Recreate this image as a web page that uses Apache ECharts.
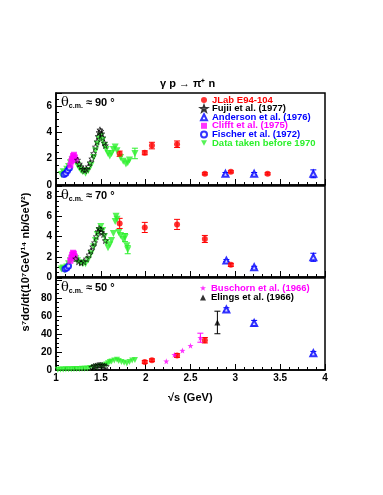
<!DOCTYPE html>
<html>
<head>
<meta charset="utf-8">
<script src="https://cdn.jsdelivr.net/npm/echarts@6/dist/echarts.min.js"></script>
<style>
  html, body { margin: 0; padding: 0; background: #fff; }
  #main { width: 383px; height: 495px; }
</style>
</head>
<body>
<div id="main"></div>
<script>
// ---- data: [sqrt(s) GeV, value] ----
// theta = 90 deg panel
const jlab90 = [[1.71, 2.38], [1.99, 2.45], [2.07, 3.0], [2.35, 3.1], [2.66, 0.85], [2.95, 1.0], [3.36, 0.85]]
const jlab90Err = [0.2, 0.15, 0.25, 0.25, 0.08, 0.08, 0.08]
const fujii90 = [[1.24, 1.9], [1.26, 1.6], [1.28, 1.4], [1.30, 1.2], [1.32, 1.1], [1.34, 1.2], [1.36, 1.4], [1.38, 1.7],
  [1.40, 2.0], [1.42, 2.4], [1.44, 2.9], [1.46, 3.3], [1.47, 3.7], [1.48, 4.0], [1.49, 4.2], [1.50, 4.1],
  [1.51, 3.9], [1.52, 3.6], [1.54, 3.2], [1.55, 3.0]]
const anderson90 = [[2.89, 0.85], [3.21, 0.85], [3.87, 0.85]]
const anderson90Err = [0.1, 0.1, 0.3]
const clifft90 = [[1.16, 1.5], [1.17, 1.8], [1.18, 2.0], [1.19, 2.2], [1.20, 2.3], [1.21, 2.1], [1.22, 1.9]]
const fischer90 = [[1.09, 0.8], [1.11, 0.9], [1.13, 1.1], [1.15, 1.3]]
const old90 = [[1.06, 0.8], [1.08, 1.0], [1.10, 0.9], [1.12, 1.2], [1.14, 1.4], [1.16, 1.7], [1.18, 1.9], [1.20, 2.0],
  [1.22, 1.8], [1.24, 1.5], [1.26, 1.3], [1.28, 1.1], [1.30, 1.0], [1.33, 0.9], [1.36, 1.1], [1.39, 1.5],
  [1.42, 2.1], [1.44, 2.6], [1.46, 3.1], [1.48, 3.5], [1.50, 3.7], [1.52, 3.4], [1.54, 3.0], [1.56, 2.7],
  [1.58, 2.4], [1.60, 2.2], [1.62, 2.4], [1.64, 2.7], [1.66, 2.9], [1.68, 2.6], [1.72, 2.1], [1.75, 1.8],
  [1.78, 1.6], [1.80, 1.7], [1.82, 1.9], [1.88, 2.4]]
const old90Err = { 35: 0.4 }

// theta = 70 deg panel
const jlab70 = [[1.71, 5.3], [1.99, 4.9], [2.35, 5.2], [2.66, 3.76], [2.95, 1.2]]
const jlab70Err = [0.5, 0.5, 0.5, 0.35, 0.15]
const fujii70 = [[1.22, 1.8], [1.25, 1.5], [1.28, 1.4], [1.31, 1.5], [1.34, 1.8], [1.37, 2.2], [1.39, 2.6], [1.41, 3.0],
  [1.43, 3.4], [1.45, 4.0], [1.47, 4.5], [1.48, 4.8], [1.50, 4.7], [1.51, 4.4], [1.53, 4.2], [1.55, 3.6]]
const anderson70 = [[2.90, 1.62], [3.21, 0.96], [3.87, 1.95]]
const anderson70Err = [0.1, 0.1, 0.4]
const clifft70 = [[1.16, 1.6], [1.17, 1.9], [1.18, 2.2], [1.19, 2.4], [1.20, 2.3], [1.21, 2.0]]
const fischer70 = [[1.10, 0.8], [1.12, 0.9], [1.14, 1.1]]
const old70 = [[1.06, 0.8], [1.08, 0.9], [1.10, 0.7], [1.12, 1.0], [1.14, 1.3], [1.16, 1.6], [1.18, 1.9], [1.20, 2.0],
  [1.22, 1.8], [1.24, 1.6], [1.27, 1.4], [1.30, 1.3], [1.33, 1.3], [1.36, 1.7], [1.39, 2.3], [1.42, 3.0],
  [1.44, 3.6], [1.46, 4.2], [1.48, 4.6], [1.50, 5.0], [1.52, 4.6], [1.54, 4.0], [1.56, 3.4], [1.58, 2.9],
  [1.60, 3.2], [1.62, 3.6], [1.64, 4.3], [1.66, 5.5], [1.67, 6.0], [1.68, 5.7], [1.70, 4.4], [1.72, 4.1],
  [1.75, 3.7], [1.77, 3.9], [1.79, 3.1], [1.80, 2.7]]
const old70Err = { 33: 0.4, 35: 0.4 }

// theta = 50 deg panel
const jlab50 = [[1.99, 8.9], [2.07, 10.8], [2.35, 16], [2.66, 33]]
const jlab50Err = [1.5, 1.5, 2, 3]
const fujii50 = [[1.40, 3], [1.42, 4], [1.44, 4.5], [1.46, 5], [1.48, 5.5], [1.50, 5.5], [1.52, 5], [1.54, 4.5], [1.56, 4]]
const anderson50 = [[2.90, 67], [3.21, 52], [3.87, 18.6]]
const anderson50Err = [2, 3, 2]
const old50 = [[1.02, 0.4], [1.05, 0.5], [1.08, 0.6], [1.11, 0.7], [1.14, 0.8], [1.17, 0.9], [1.20, 1.0], [1.23, 1.1],
  [1.26, 1.2], [1.29, 1.3], [1.32, 1.5], [1.35, 1.8], [1.38, 2.2], [1.42, 2.8], [1.46, 3.6], [1.5, 4.5],
  [1.53, 5], [1.56, 6], [1.58, 7.5], [1.60, 8.9], [1.62, 9.5], [1.65, 10.5], [1.68, 11.5], [1.70, 10],
  [1.73, 8.9], [1.76, 8], [1.79, 7.2], [1.82, 9], [1.85, 10.5], [1.88, 11]]
const buschorn50 = [[2.23, 9.7], [2.32, 16.9], [2.41, 21.5], [2.50, 27], [2.61, 35.8]]
const buschorn50Err = [0, 0, 0, 0, 5]
const elings50 = [[2.80, 52.7]]
const elings50Err = [12.5]

const yMax = [7, 9, 102]
const yStep = [2, 2, 20]
const yTopLabel = [6, 8, 80]

const RED = '#ff0000', BLUE = '#0000ff', MAG = '#ff00ff', GREEN = '#2cf02c'
const STAR = 'path://M0,-10L2.35,-3.24L9.51,-3.09L3.8,1.24L5.88,8.09L0,4L-5.88,8.09L-3.8,1.24L-9.51,-3.09L-2.35,-3.24Z'
const DOWN = 'path://M0,0L10,0L5,9Z'
const FONT = 'Liberation Sans'

function scatter(name, data, gi, symbol, size, style) {
  return {
    name: name, type: 'scatter', xAxisIndex: gi, yAxisIndex: gi,
    data: data, symbol: symbol, symbolSize: size, itemStyle: style, z: 3
  }
}

// error bars: errs may be an array or a {index: err} map
function errBars(data, errs, gi, color) {
  const rows = []
  data.forEach((p, i) => {
    const e = errs[i]
    if (e) rows.push([p[0], p[1] - e, p[1] + e])
  })
  return {
    type: 'custom', xAxisIndex: gi, yAxisIndex: gi, data: rows, z: 2, silent: true,
    renderItem: (params, api) => {
      const lo = api.coord([api.value(0), api.value(1)])
      const hi = api.coord([api.value(0), api.value(2)])
      const st = { stroke: color, lineWidth: 1 }
      return {
        type: 'group',
        children: [
          { type: 'line', shape: { x1: lo[0], y1: lo[1], x2: hi[0], y2: hi[1] }, style: st },
          { type: 'line', shape: { x1: lo[0] - 3, y1: lo[1], x2: lo[0] + 3, y2: lo[1] }, style: st },
          { type: 'line', shape: { x1: hi[0] - 3, y1: hi[1], x2: hi[0] + 3, y2: hi[1] }, style: st }
        ]
      }
    }
  }
}

const grids = [
  { left: 56, top: 93, width: 269, height: 92 },
  { left: 56, top: 186, width: 269, height: 91 },
  { left: 56, top: 278, width: 269, height: 92 }
].map(g => Object.assign(g, { show: true, borderColor: '#000', borderWidth: 1.5, backgroundColor: 'transparent' }))

const xAxes = [0, 1, 2].map(i => ({
  type: 'value', gridIndex: i, min: 1, max: 4, interval: 0.5,
  axisLine: { show: true, lineStyle: { color: '#000', width: 1.5 } },
  axisTick: { inside: true, length: 6, lineStyle: { color: '#000' } },
  minorTick: { show: true, splitNumber: 5, length: 3, lineStyle: { color: '#000' } },
  splitLine: { show: false },
  axisLabel: { show: i === 2, color: '#000', fontFamily: FONT, fontWeight: 'bold', fontSize: 10, margin: 3 }
}))

const yAxes = [0, 1, 2].map(i => ({
  type: 'value', gridIndex: i, min: 0, max: yMax[i], interval: yStep[i],
  axisLine: { show: true, lineStyle: { color: '#000', width: 1.5 } },
  axisTick: { inside: true, length: 6, lineStyle: { color: '#000' } },
  minorTick: { show: true, splitNumber: 4, length: 3, lineStyle: { color: '#000' } },
  splitLine: { show: false },
  axisLabel: {
    color: '#000', fontFamily: FONT, fontWeight: 'bold', fontSize: 10, margin: 4,
    formatter: v => (v > yTopLabel[i] ? '' : String(v))
  }
}))

const openStar = { color: 'rgba(0,0,0,0)', borderColor: '#000', borderWidth: 0.8 }
const series = [
  // 90 deg
  scatter('Data taken before 1970', old90, 0, DOWN, 7, { color: GREEN }),
  errBars(old90, old90Err, 0, GREEN),
  scatter('Fischer et al. (1972)', fischer90, 0, 'emptyCircle', 5, { color: BLUE, borderWidth: 1 }),
  scatter('Clifft et al. (1975)', clifft90, 0, 'rect', 6, { color: MAG }),
  scatter('Fujii et al. (1977)', fujii90, 0, STAR, 6, openStar),
  scatter('Anderson et al. (1976)', anderson90, 0, 'emptyTriangle', 6, { color: BLUE, borderWidth: 1 }),
  errBars(anderson90, anderson90Err, 0, BLUE),
  scatter('JLab E94-104', jlab90, 0, 'circle', 6, { color: RED }),
  errBars(jlab90, jlab90Err, 0, RED),
  // 70 deg
  scatter('Data taken before 1970', old70, 1, DOWN, 7, { color: GREEN }),
  errBars(old70, old70Err, 1, GREEN),
  scatter('Fischer et al. (1972)', fischer70, 1, 'emptyCircle', 5, { color: BLUE, borderWidth: 1 }),
  scatter('Clifft et al. (1975)', clifft70, 1, 'rect', 6, { color: MAG }),
  scatter('Fujii et al. (1977)', fujii70, 1, STAR, 6, openStar),
  scatter('Anderson et al. (1976)', anderson70, 1, 'emptyTriangle', 6, { color: BLUE, borderWidth: 1 }),
  errBars(anderson70, anderson70Err, 1, BLUE),
  scatter('JLab E94-104', jlab70, 1, 'circle', 6, { color: RED }),
  errBars(jlab70, jlab70Err, 1, RED),
  // 50 deg
  scatter('Data taken before 1970', old50, 2, DOWN, 6, { color: GREEN }),
  scatter('Fujii et al. (1977)', fujii50, 2, STAR, 6, openStar),
  scatter('Anderson et al. (1976)', anderson50, 2, 'emptyTriangle', 6, { color: BLUE, borderWidth: 1 }),
  errBars(anderson50, anderson50Err, 2, BLUE),
  scatter('JLab E94-104', jlab50, 2, 'circle', 6, { color: RED }),
  errBars(jlab50, jlab50Err, 2, RED),
  scatter('Buschorn et al. (1966)', buschorn50, 2, STAR, 6, { color: MAG }),
  errBars(buschorn50, buschorn50Err, 2, MAG),
  scatter('Elings et al. (1966)', elings50, 2, 'triangle', 6, { color: '#000' }),
  errBars(elings50, elings50Err, 2, '#000')
]

const legendText = { fontFamily: FONT, fontWeight: 'bold', fontSize: 9.5, padding: 0 }
const item = (name, color, icon) => ({ name: name, icon: icon, textStyle: { color: color } })

function thetaLabel(deg, top) {
  return {
    type: 'text', left: 61, top: top,
    style: {
      text: '{t|θ}{s|c.m.}{n| ≈ ' + deg + ' °}',
      rich: {
        t: { fontFamily: 'DejaVu Serif', fontSize: 13, lineHeight: 15, fill: '#000' },
        s: { fontFamily: FONT, fontWeight: 'bold', fontSize: 7, lineHeight: 15, verticalAlign: 'bottom', fill: '#000' },
        n: { fontFamily: FONT, fontWeight: 'bold', fontSize: 11, lineHeight: 15, fill: '#000' }
      }
    }
  }
}

const option = {
  animation: false,
  backgroundColor: '#fff',
  grid: grids,
  xAxis: xAxes,
  yAxis: yAxes,
  legend: [
    {
      orient: 'vertical', left: 200, top: 95, itemWidth: 6, itemHeight: 6, itemGap: -1.4, padding: 0,
      selectedMode: false, textStyle: legendText,
      data: [
        item('JLab E94-104', RED, 'circle'),
        item('Fujii et al. (1977)', '#000', STAR),
        item('Anderson et al. (1976)', BLUE, 'emptyTriangle'),
        item('Clifft et al. (1975)', MAG, 'rect'),
        item('Fischer et al. (1972)', BLUE, 'emptyCircle'),
        item('Data taken before 1970', GREEN, DOWN)
      ]
    },
    {
      orient: 'vertical', left: 200, top: 283, itemWidth: 6, itemHeight: 6, itemGap: -0.5, padding: 0,
      selectedMode: false, textStyle: legendText,
      data: [
        item('Buschorn et al. (1966)', MAG, STAR),
        item('Elings et al. (1966)', '#000', 'triangle')
      ]
    }
  ],
  graphic: [
    {
      type: 'text', left: 160, top: 78,
      style: { text: 'γ p → π⁺ n', fontFamily: FONT, fontWeight: 'bold', fontSize: 11, fill: '#000' }
    },
    {
      type: 'text', left: 168, top: 392,
      style: { text: '√s (GeV)', fontFamily: FONT, fontWeight: 'bold', fontSize: 11, fill: '#000' }
    },
    {
      type: 'text', x: 26, y: 262, rotation: Math.PI / 2,
      style: {
        text: 's⁷dσ/dt(10⁷GeV¹⁴ nb/GeV²)', fontFamily: FONT, fontWeight: 'bold', fontSize: 11,
        fill: '#000', align: 'center', verticalAlign: 'middle'
      }
    },
    thetaLabel(90, 96),
    thetaLabel(70, 189),
    thetaLabel(50, 281)
  ],
  series: series
}

const myChart = echarts.init(document.getElementById('main'))
myChart.setOption(option)
</script>
</body>
</html>
